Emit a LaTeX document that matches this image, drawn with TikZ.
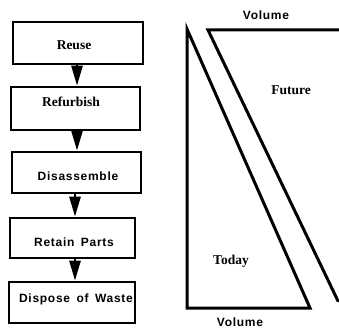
\documentclass[tikz,border=0pt]{standalone}
\usepackage{fontspec}
\setmainfont{Liberation Serif}
\newfontfamily\headsans[LetterSpace=6,WordSpace=1.6]{Liberation Sans}
\usetikzlibrary{arrows.meta}
\begin{document}
\begin{tikzpicture}[x=1pt,y=-1pt,
  stepbox/.style={draw,line width=2.6pt,inner sep=0pt},
  flow/.style={line width=2.6pt,-{Triangle[length=20pt,width=11pt]}},
  serifword/.style={font=\fontsize{13.5}{15}\selectfont\bfseries,inner sep=0pt},
  sansword/.style={font=\fontsize{12}{14}\headsans\bfseries,inner sep=0pt},
  wedge/.style={line width=3pt,line cap=round,line join=miter}]
\useasboundingbox (0,0) rectangle (339,328);

% process chain
\node[stepbox,minimum width=130pt,minimum height=42pt] (reuse) at (78,43) {};
\node[stepbox,minimum width=129pt,minimum height=43pt] (refurb) at (75.5,108.5) {};
\node[stepbox,minimum width=129pt,minimum height=41pt] (disasm) at (76.5,172.5) {};
\node[stepbox,minimum width=125pt,minimum height=40pt] (retain) at (72.5,238) {};
\node[stepbox,minimum width=126pt,minimum height=41pt] (dispose) at (72,302.5) {};

\node[serifword] (treuse) at (74,45) {Reuse};
\node[serifword] (trefurb) at (71,102) {Refurbish};
\node[sansword] (tdisasm) at (78,176) {Disassemble};
\node[sansword] (tretain) at (74,242) {Retain Parts};
\node[sansword] (tdispose) at (76,299) {Dispose of Waste};

\draw[flow] (reuse.south -| 77,0) -- (refurb.north -| 77,0);
\draw[flow] (refurb.south -| 77,0) -- (disasm.north -| 77,0);
\draw[flow] (disasm.south -| 75,0) -- (retain.north -| 75,0);
\draw[flow] (retain.south -| 75,0) -- (dispose.north -| 75,0);

% volume wedges
\draw[wedge] (187,308) -- (187,29) -- (310,308) -- cycle;
\draw[wedge] (339,30) -- (208,30) -- (338,301);

\node[sansword] (vtop) at (266,15) {Volume};
\node[sansword] (vbottom) at (240,322) {Volume};
\node[serifword] (future) at (291,90) {Future};
\node[serifword] (today) at (231,261) {Today};
\end{tikzpicture}
\end{document}
